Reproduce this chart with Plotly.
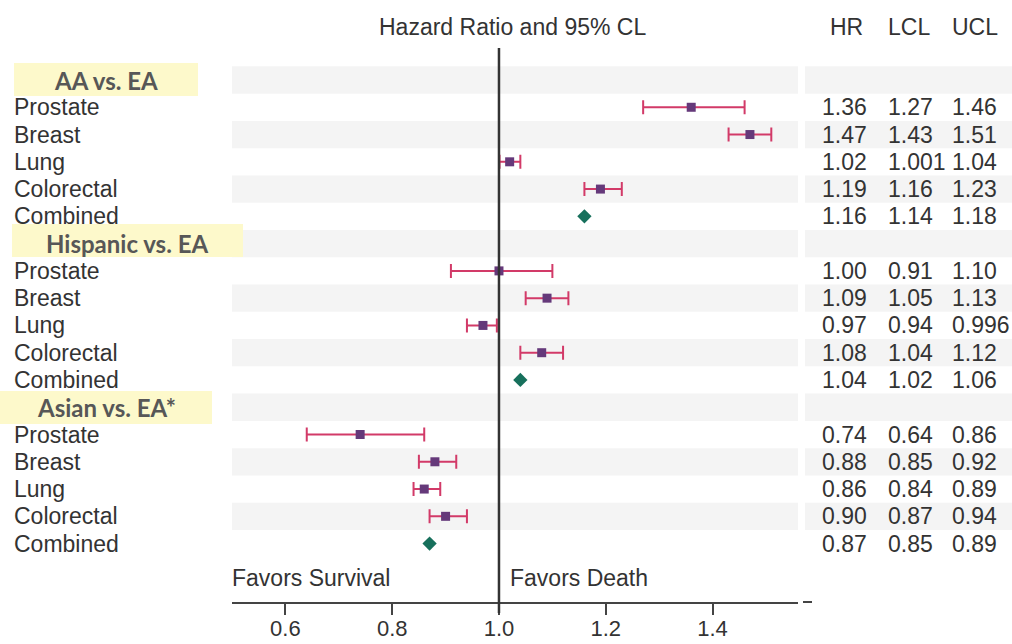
import plotly.graph_objects as go

# ---------------- data ----------------
groups = ["AA vs. EA", "Hispanic vs. EA", "Asian vs. EA*"]
sites = ["Prostate", "Breast", "Lung", "Colorectal", "Combined"]

hr_aa = [1.36, 1.47, 1.02, 1.19, 1.16]
lcl_aa = [1.27, 1.43, 1.001, 1.16, 1.14]
ucl_aa = [1.46, 1.51, 1.04, 1.23, 1.18]

hr_hisp = [1.00, 1.09, 0.97, 1.08, 1.04]
lcl_hisp = [0.91, 1.05, 0.94, 1.04, 1.02]
ucl_hisp = [1.10, 1.13, 0.996, 1.12, 1.06]

hr_asian = [0.74, 0.88, 0.86, 0.90, 0.87]
lcl_asian = [0.64, 0.85, 0.84, 0.87, 0.85]
ucl_asian = [0.86, 0.92, 0.89, 0.94, 0.89]

x_ticks = [0.6, 0.8, 1.0, 1.2, 1.4]
table_headers = ["HR", "LCL", "UCL"]

# ---------------- layout constants ----------------
W, H = 1012, 644
L, R_PX, T, B_PX = 232, 798, 48, 602   # plot area in pixels
ROW0_PX, ROW_STEP = 80.0, 27.27
y_top = (T - ROW0_PX) / ROW_STEP
y_bot = (B_PX - ROW0_PX) / ROW_STEP
PW, PH = R_PX - L, B_PX - T

def px_x(px):
    return (px - L) / PW

def px_y(py):
    return (B_PX - py) / PH

def row_paper(i):
    return (y_bot - i) / (y_bot - y_top)

def fmt(v):
    s = f"{v:.3f}"
    return s[:-1] if s.endswith("0") else s

TXT = "#333333"
FONT = "Liberation Sans, Arial, sans-serif"
FS = 23
SQ_COL = "#65397a"
ERR_COL = "#d23a68"
DIA_COL = "#17705c"
BAND = "#f4f4f4"

fig = go.Figure()
shapes = []
annotations = []

all_hr = [hr_aa, hr_hisp, hr_asian]
all_lcl = [lcl_aa, lcl_hisp, lcl_asian]
all_ucl = [ucl_aa, ucl_hisp, ucl_asian]

# bands on every even row (header, Breast, Colorectal)
for i in range(0, 18, 2):
    y0, y1 = row_paper(i + 0.5), row_paper(i - 0.5)
    shapes.append(dict(type="rect", xref="paper", yref="paper", x0=0, x1=1,
                       y0=y0, y1=y1, fillcolor=BAND, line=dict(width=0), layer="below"))
    shapes.append(dict(type="rect", xref="paper", yref="paper", x0=px_x(805), x1=px_x(1012),
                       y0=y0, y1=y1, fillcolor=BAND, line=dict(width=0), layer="below"))

sq_x, sq_y, sq_plus, sq_minus = [], [], [], []
dia_x, dia_y = [], []

box_px = [(14, 198, 63, 96), (12, 243, 224, 257), (0, 212, 391, 424)]
col_px = [820, 886, 950]

for g, name in enumerate(groups):
    base = g * 6
    bx0, bx1, by0, by1 = box_px[g]
    shapes.append(dict(type="rect", xref="paper", yref="paper", x0=px_x(bx0), x1=px_x(bx1),
                       y0=px_y(by1), y1=px_y(by0), fillcolor="#fdf9cb",
                       line=dict(width=0), layer="above"))
    annotations.append(dict(text=f"<b>{name}</b>", xref="paper", yref="y",
                            x=px_x((bx0 + bx1) / 2), y=base, xanchor="center", yanchor="middle",
                            showarrow=False, font=dict(family="Lato, Open Sans, sans-serif",
                                                       size=24, color="#575757")))
    for k, s in enumerate(sites):
        row = base + 1 + k
        annotations.append(dict(text=s, xref="paper", yref="y", x=px_x(12), y=row,
                                xanchor="left", yanchor="middle", showarrow=False,
                                font=dict(family=FONT, size=FS, color=TXT)))
        hr, lo, hi = all_hr[g][k], all_lcl[g][k], all_ucl[g][k]
        if s == "Combined":
            dia_x.append(hr); dia_y.append(row)
        else:
            sq_x.append(hr); sq_y.append(row)
            sq_plus.append(hi - hr); sq_minus.append(hr - lo)
        for c, v in enumerate([hr, lo, hi]):
            annotations.append(dict(text=fmt(v), xref="paper", yref="y", x=px_x(col_px[c]), y=row,
                                    xanchor="left", yanchor="middle", showarrow=False,
                                    font=dict(family=FONT, size=FS, color=TXT)))

fig.add_trace(go.Scatter(x=sq_x, y=sq_y, mode="markers",
                         marker=dict(symbol="square", size=9, color=SQ_COL),
                         error_x=dict(type="data", array=sq_plus, arrayminus=sq_minus,
                                      color=ERR_COL, thickness=2, width=7),
                         showlegend=False, hoverinfo="skip"))
fig.add_trace(go.Scatter(x=dia_x, y=dia_y, mode="markers",
                         marker=dict(symbol="diamond", size=11, color=DIA_COL),
                         showlegend=False, hoverinfo="skip"))

# reference line at 1.0
shapes.append(dict(type="line", xref="x", yref="paper", x0=1.0, x1=1.0,
                   y0=px_y(613), y1=1, line=dict(color="#333333", width=2.5), layer="above"))
# little axis stub at right
shapes.append(dict(type="line", xref="paper", yref="paper", x0=px_x(803), x1=px_x(812),
                   y0=0, y1=0, line=dict(color="#444444", width=2)))

# headers
annotations.append(dict(text="Hazard Ratio and 95% CL", xref="paper", yref="paper",
                        x=px_x(512), y=px_y(27), xanchor="center", yanchor="middle",
                        showarrow=False, font=dict(family=FONT, size=FS, color=TXT)))
for c, htxt in enumerate(table_headers):
    annotations.append(dict(text=htxt, xref="paper", yref="paper",
                            x=px_x([828, 886, 950][c]), y=px_y(27), xanchor="left",
                            yanchor="middle", showarrow=False,
                            font=dict(family=FONT, size=FS, color=TXT)))
annotations.append(dict(text="Favors Survival", xref="paper", yref="paper", x=px_x(230),
                        y=px_y(578), xanchor="left", yanchor="middle", showarrow=False,
                        font=dict(family=FONT, size=FS, color=TXT)))
annotations.append(dict(text="Favors Death", xref="paper", yref="paper", x=px_x(508),
                        y=px_y(578), xanchor="left", yanchor="middle", showarrow=False,
                        font=dict(family=FONT, size=FS, color=TXT)))

fig.update_layout(
    width=W, height=H,
    margin=dict(l=L, r=W - R_PX, t=T, b=H - B_PX, pad=0, autoexpand=False),
    paper_bgcolor="white", plot_bgcolor="rgba(0,0,0,0)",
    shapes=shapes, annotations=annotations, showlegend=False,
    xaxis=dict(range=[0.5, 1.56], tickvals=x_ticks, ticktext=[f"{t:.1f}" for t in x_ticks],
               showgrid=False, zeroline=False, showline=True, linecolor="#444444", linewidth=2,
               ticks="outside", ticklen=11, tickwidth=1.5, tickcolor="#444444",
               ticklabelstandoff=-5,
               tickfont=dict(family=FONT, size=22, color=TXT), fixedrange=True,
               automargin=False),
    yaxis=dict(range=[y_bot, y_top], showgrid=False, zeroline=False, showline=False,
               showticklabels=False, ticks="", fixedrange=True, automargin=False),
)

fig.write_html("out.html")
